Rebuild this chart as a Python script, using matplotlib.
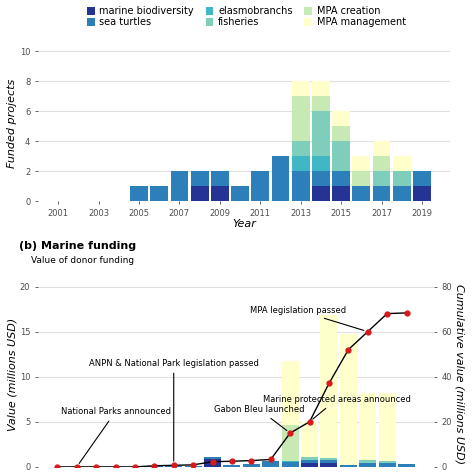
import matplotlib
matplotlib.use("Agg")
import matplotlib.pyplot as plt
import numpy as np

years = list(range(2001, 2020))
cats = ["marine biodiversity", "sea turtles", "elasmobranchs", "fisheries", "MPA creation", "MPA management"]
colors = ["#253494", "#2c7fb8", "#41b6c4", "#7fcdbb", "#c7e9b4", "#ffffcc"]

# funded projects per year (2001..2019)
proj_mb   = [0,0,0,0,0,0,0,1,1,0,0,0,0,1,1,0,0,0,1]
proj_st   = [0,0,0,0,1,1,2,1,1,1,2,3,2,1,1,1,1,1,1]
proj_el   = [0,0,0,0,0,0,0,0,0,0,0,0,1,1,0,0,0,0,0]
proj_fi   = [0,0,0,0,0,0,0,0,0,0,0,0,1,3,2,0,1,1,0]
proj_cr   = [0,0,0,0,0,0,0,0,0,0,0,0,3,1,1,1,1,0,0]
proj_mg   = [0,0,0,0,0,0,0,0,0,0,0,0,1,1,1,1,1,1,0]

# funding value (millions USD)
val_mb = [0,0,0,0,0,0,0,0,0.9,0,0,0,0,0.4,0.4,0,0,0,0]
val_st = [0,0,0,0,0,0.15,0.1,0.15,0.2,0.25,0.35,0.7,0.5,0.4,0.4,0.2,0.4,0.4,0.3]
val_el = [0,0,0,0,0,0,0,0,0,0,0,0,0.2,0,0,0,0,0,0]
val_fi = [0,0,0,0,0,0,0,0,0,0,0,0,0,0.3,0.2,0,0.4,0.25,0]
val_cr = [0,0,0,0,0,0,0,0,0,0,0,0,4.0,0,0,0,0,0,0]
val_mg = [0,0,0,0,0,0,0,0,0,0,0,0,7.0,3.9,15.8,14.5,7.4,7.55,0]
cumulative = [0,0,0,0,0,0.5,0.7,0.9,2.3,2.5,2.8,3.3,15,20,37,52,60,68,68.3]

grey = "#4d4d4d"
fig = plt.figure(figsize=(4.74, 4.74), dpi=100)
ax1 = fig.add_axes([0.08, 0.575, 0.87, 0.33])
ax2 = fig.add_axes([0.08, 0.015, 0.835, 0.39])

def style(ax):
    for s in ax.spines.values():
        s.set_visible(False)
    ax.grid(axis="y", color="#e0e0e0", lw=0.8)
    ax.set_axisbelow(True)
    ax.tick_params(labelsize=6, colors=grey, length=2, width=0.6)

x = np.array(years)
bottom = np.zeros(len(years))
for c, col, d in zip(cats, colors, [proj_mb, proj_st, proj_el, proj_fi, proj_cr, proj_mg]):
    ax1.bar(x, d, bottom=bottom, color=col, width=0.88, label=c)
    bottom += np.array(d)
style(ax1)
ax1.set_ylim(0, 10.4)
ax1.set_yticks([0, 2, 4, 6, 8, 10])
ax1.set_xticks(range(2001, 2020, 2))
ax1.set_xlim(2000.0, 2020.4)
ax1.set_xlabel("Year", fontsize=8, style="italic", labelpad=1)
ax1.set_ylabel("Funded projects", fontsize=8, style="italic", labelpad=2)
h, l = ax1.get_legend_handles_labels()
fig.legend(h, l, ncol=3,
           loc="upper center", bbox_to_anchor=(0.52, 1.005), frameon=False,
           fontsize=7, handlelength=0.8, handleheight=0.8, columnspacing=1.2,
           labelspacing=0.1, handletextpad=0.5)

bottom = np.zeros(len(years))
for c, col, d in zip(cats, colors, [val_mb, val_st, val_el, val_fi, val_cr, val_mg]):
    ax2.bar(x, d, bottom=bottom, color=col, width=0.88)
    bottom += np.array(d)
style(ax2)
ax2.set_ylim(0, 20.5)
ax2.set_yticks([0, 5, 10, 15, 20])
ax2.set_xlim(2000.0, 2020.4)
ax2.set_xticks([])
ax2.set_ylabel("Value (millions USD)", fontsize=8, style="italic", labelpad=2)
ax3 = ax2.twinx()
for s in ax3.spines.values():
    s.set_visible(False)
ax3.set_ylim(0, 82)
ax3.set_yticks([0, 20, 40, 60, 80])
ax3.tick_params(labelsize=6, colors=grey, length=2, width=0.6)
ax3.set_ylabel("Cumulative value (millions USD)", fontsize=8, style="italic", rotation=270, labelpad=9)
ax3.plot(x, cumulative, color="black", lw=1, marker="o", ms=3.5, mfc="#d7191c", mec="#d7191c")

def ann(text, xi, tx, ty):
    ax3.annotate(text, xy=(years[xi], cumulative[xi]), xytext=(tx, ty), fontsize=6,
                 ha="center", va="center",
                 arrowprops=dict(arrowstyle="-", color="black", lw=0.8, shrinkA=2, shrinkB=3))
ann("National Parks announced", 1, 2004.0, 24.5)
ann("ANPN & National Park legislation passed", 6, 2007.0, 46)
ann("Gabon Bleu launched", 12, 2011.4, 25.5)
ann("Marine protected areas announced", 13, 2015.4, 30)
ann("MPA legislation passed", 16, 2013.4, 69.5)

fig.text(0.04, 0.475, "(b) Marine funding", fontsize=8, fontweight="bold")
fig.text(0.065, 0.445, "Value of donor funding", fontsize=6.5)
fig.savefig("out.png", dpi=100)
